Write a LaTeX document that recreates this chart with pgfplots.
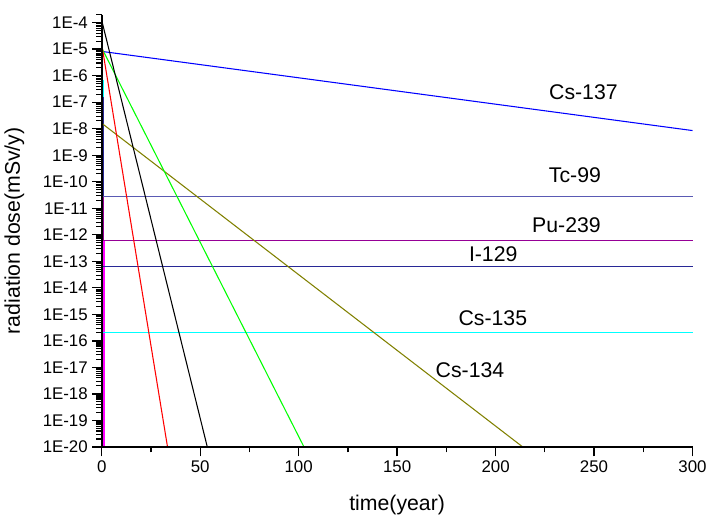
\documentclass[border=0pt]{standalone}
\usepackage{fontspec}
\setmainfont{Liberation Sans}
\usepackage{pgfplots}
\pgfplotsset{compat=1.18}

\definecolor{tcblue}{RGB}{90,90,180}
\definecolor{iblue}{RGB}{40,40,150}
\definecolor{pupurple}{RGB}{150,0,150}
\definecolor{olive134}{RGB}{128,128,0}
\definecolor{cs135}{RGB}{0,255,255}
\definecolor{pink0}{RGB}{255,0,255}

\begin{document}
\begin{tikzpicture}
\begin{axis}[
    scale only axis,
    width=444.75pt, height=325.5pt,
    ymode=log, log basis y=10,
    xmin=0, xmax=300, ymin=1e-20, ymax=2e-4,
    axis line style={draw=none},
    xtick pos=left, ytick pos=left,
    tick align=outside,
    xtick={0,50,100,150,200,250,300},
    minor xtick={25,75,125,175,225,275},
    ytickten={-20,...,-4},
    yticklabels={1E-20,1E-19,1E-18,1E-17,1E-16,1E-15,1E-14,1E-13,1E-12,1E-11,1E-10,1E-9,1E-8,1E-7,1E-6,1E-5,1E-4},
    major tick length=7pt, minor tick length=4pt,
    tick style={black, line width=1pt},
    tick label style={font=\fontsize{12.7}{15}\selectfont},
    label style={font=\fontsize{16}{19}\selectfont},
    /pgf/number format/assume math mode=true,
    xlabel={time(year)},
    ylabel={radiation dose(mSv/y)},
    xlabel style={at={(axis description cs:0.5,-0.135)}, anchor=center},
    ylabel style={at={(axis description cs:-0.148,0.5)}, anchor=center},
    clip=false,
]
% short-lived components at t=0
\addplot[cs135, line width=1pt] coordinates {(0.8,7e-7) (0.8,1e-7)};
\addplot[iblue, line width=1pt] coordinates {(0.8,1.5e-7) (0.8,3e-11)};
\addplot[pupurple, line width=1pt] coordinates {(0.8,3e-11) (0.8,6e-13)};
\addplot[pink0, line width=1.5pt] coordinates {(1.1,6e-13) (1.1,1e-20)};
% long-lived (constant)
\addplot[tcblue, line width=0.9pt] coordinates {(0,2.8e-11) (300,2.8e-11)};
\addplot[pupurple, line width=0.9pt] coordinates {(0,6.2e-13) (300,6.2e-13)};
\addplot[iblue, line width=0.9pt] coordinates {(0,6.5e-14) (300,6.5e-14)};
\addplot[cs135, line width=1pt] coordinates {(0,2.1e-16) (300,2.1e-16)};
% decaying
\addplot[blue, line width=0.8pt] coordinates {(0,8.2e-6) (300,8.5e-9)};
\addplot[olive134, line width=0.8pt] coordinates {(0,1.6e-8) (213.8,1e-20)};
\addplot[green, line width=0.8pt] coordinates {(0,1.1e-5) (102.7,1e-20)};
\addplot[red, line width=0.8pt] coordinates {(0,1.5e-5) (33.4,1e-20)};
\addplot[black, line width=0.8pt] coordinates {(0,1.2e-4) (53.6,1e-20)};

\node[font=\fontsize{16}{19}\selectfont] at (axis cs:244.6,2.3e-7) {Cs-137};
\node[font=\fontsize{16}{19}\selectfont] at (axis cs:240.3,1.7e-10) {Tc-99};
\node[font=\fontsize{16}{19}\selectfont] at (axis cs:236,2.3e-12) {Pu-239};
\node[font=\fontsize{16}{19}\selectfont] at (axis cs:198.8,1.8e-13) {I-129};
\node[font=\fontsize{16}{19}\selectfont] at (axis cs:198.6,7.4e-16) {Cs-135};
\node[font=\fontsize{16}{19}\selectfont] at (axis cs:187,7.9e-18) {Cs-134};
% tick marks (outside)
\pgfplotsinvokeforeach{0,50,100,150,200,250,300}{
  \draw[line width=1pt] (axis cs:#1,1e-20) -- ([yshift=-6pt]axis cs:#1,1e-20);}
\pgfplotsinvokeforeach{25,75,125,175,225,275}{
  \draw[line width=1pt] (axis cs:#1,1e-20) -- ([yshift=-3.5pt]axis cs:#1,1e-20);}
\pgfplotsinvokeforeach{-20,-19,-18,-17,-16,-15,-14,-13,-12,-11,-10,-9,-8,-7,-6,-5,-4}{
  \draw[line width=1pt] (axis cs:0,1e#1) -- ([xshift=-7.5pt]axis cs:0,1e#1);}
\pgfplotsinvokeforeach{-20,-19,-18,-17,-16,-15,-14,-13,-12,-11,-10,-9,-8,-7,-6,-5}{
  \draw[line width=0.8pt] (axis cs:0,2e#1) -- ([xshift=-4.5pt]axis cs:0,2e#1);
  \draw[line width=0.8pt] (axis cs:0,3e#1) -- ([xshift=-4.5pt]axis cs:0,3e#1);
  \draw[line width=0.8pt] (axis cs:0,4e#1) -- ([xshift=-4.5pt]axis cs:0,4e#1);
  \draw[line width=0.8pt] (axis cs:0,5e#1) -- ([xshift=-4.5pt]axis cs:0,5e#1);
  \draw[line width=0.8pt] (axis cs:0,6e#1) -- ([xshift=-4.5pt]axis cs:0,6e#1);
  \draw[line width=0.8pt] (axis cs:0,7e#1) -- ([xshift=-4.5pt]axis cs:0,7e#1);
  \draw[line width=0.8pt] (axis cs:0,8e#1) -- ([xshift=-4.5pt]axis cs:0,8e#1);
  \draw[line width=0.8pt] (axis cs:0,9e#1) -- ([xshift=-4.5pt]axis cs:0,9e#1);}
\draw[line width=0.8pt] (axis cs:0,2e-4) -- ([xshift=-4.5pt]axis cs:0,2e-4);
% left and bottom axis lines only
\draw[line width=1.3pt] (rel axis cs:0,1) -- (rel axis cs:0,0) -- (rel axis cs:1,0);
\path ([yshift=11pt]rel axis cs:0,1) -- ([yshift=11pt]rel axis cs:1,1);
\end{axis}
\end{tikzpicture}
\end{document}
